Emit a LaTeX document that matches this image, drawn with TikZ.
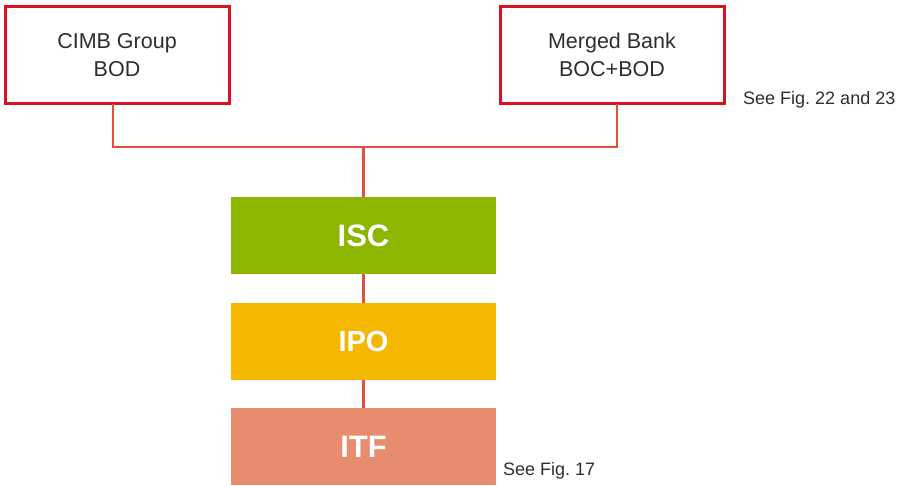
\documentclass[tikz,border=0pt]{standalone}
\usepackage{fontspec}
\setmainfont{Liberation Sans}
\frenchspacing
\definecolor{boxred}{HTML}{D9121F}
\definecolor{linered}{HTML}{E2513C}
\definecolor{iscgreen}{HTML}{8DB600}
\definecolor{ipoyellow}{HTML}{F4B800}
\definecolor{itfsalmon}{HTML}{E88C70}
\definecolor{txtgray}{HTML}{2E2E2E}
\begin{document}
\begin{tikzpicture}[x=1pt,y=-1pt,
  redbox/.style={draw=boxred,line width=3pt,fill=white,minimum width=224pt,minimum height=97pt,
    inner sep=0pt,align=center,text=txtgray,font=\fontsize{21.5}{28.5}\selectfont},
  colbox/.style={minimum width=265pt,minimum height=77pt,inner sep=0pt,text=white,
    font=\fontsize{31}{36}\bfseries\selectfont},
  conn/.style={draw=linered,line width=2.2pt},
  note/.style={text=txtgray,font=\fontsize{18}{20}\selectfont,inner sep=0pt}]
\useasboundingbox (0,0) rectangle (902,485);
\node[redbox] (cimb) at (117,55) {CIMB Group\\BOD};
\node[redbox] (merged) at (612,55) {Merged Bank\\BOC+BOD};
\node[colbox,fill=iscgreen] (isc) at (363.5,235.5) {ISC};
\node[colbox,fill=ipoyellow,font=\fontsize{29}{34}\bfseries\selectfont] (ipo) at (363.5,341.5) {IPO};
\node[colbox,fill=itfsalmon] (itf) at (363.5,446.5) {ITF};
\coordinate (jl) at (113,147);
\coordinate (jr) at (617,147);
\coordinate (jm) at (363.5,147);
\draw[conn] (113,104) -- (jl) -- (jr) -- (617,104);
\draw[conn] (jm) -- (isc.north);
\draw[conn] (isc.south) -- (ipo.north);
\draw[conn] (ipo.south) -- (itf.north);
\node[note,anchor=west] (n1) at (743,100) {See Fig. 22 and 23};
\node[note,anchor=west] (n2) at (503,471) {See Fig. 17};
\end{tikzpicture}
\end{document}
